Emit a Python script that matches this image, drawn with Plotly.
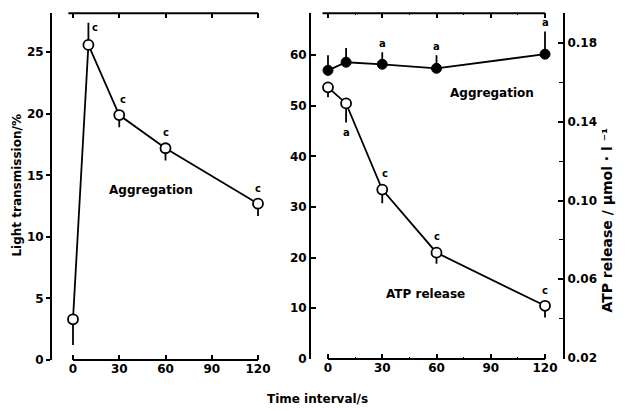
import plotly.graph_objects as go

# Page has an 8px body margin; the photographed view is slightly compressed vertically.
OFF = 8
SY = 419 / 411
W, H = 627 - OFF, 411

# ---------------- data ----------------
time_s = [0, 10, 30, 60, 120]

# left panel: light transmission (%)
agg_left = [3.3, 25.6, 19.9, 17.2, 12.7]
agg_left_up = [0, 1.8, 0, 0, 0]
agg_left_dn = [2.1, 0, 1.0, 1.0, 1.0]
agg_left_sig = ["", "c", "c", "c", "c"]

# right panel: aggregation (left axis, %)
agg_right = [57.0, 58.6, 58.2, 57.4, 60.2]
agg_right_up = [3.0, 2.8, 2.4, 2.6, 4.5]
agg_right_sig = ["", "", "a", "a", "a"]

# right panel: ATP release (right axis, umol/l)
atp = [0.1576, 0.1494, 0.1056, 0.0735, 0.0465]
atp_dn = [0.005, 0.0097, 0.007, 0.0056, 0.006]
atp_sig = ["", "a", "c", "c", "c"]

x_ticks = [0, 30, 60, 90, 120]
left_y_ticks = [0, 5, 10, 15, 20, 25]
right_y_ticks = [0, 10, 20, 30, 40, 50, 60]
atp_ticks = [0.02, 0.06, 0.10, 0.14, 0.18]
atp_minor = [0.04, 0.08, 0.12, 0.16]

# ---------------- helpers (reference pixel -> paper fraction) ----------------
def px_x(p):
    return (p - OFF) / W

def px_y(p):
    return 1 - (p * SY - OFF) / H

FONT = "DejaVu Sans"
tf = dict(family=FONT, size=12, color="black", weight="bold")
BLACK = "black"

fig = go.Figure()

# left panel aggregation
fig.add_trace(go.Scatter(
    x=time_s, y=agg_left, xaxis="x", yaxis="y", mode="lines+markers",
    line=dict(color=BLACK, width=1.8),
    marker=dict(symbol="circle", size=10, color="white", line=dict(color=BLACK, width=1.8)),
    error_y=dict(type="data", symmetric=False, array=agg_left_up, arrayminus=agg_left_dn,
                 color=BLACK, thickness=1.8, width=0),
    showlegend=False, cliponaxis=False))

# right panel aggregation (filled)
fig.add_trace(go.Scatter(
    x=time_s, y=agg_right, xaxis="x2", yaxis="y2", mode="lines+markers",
    line=dict(color=BLACK, width=1.8),
    marker=dict(symbol="circle", size=10, color=BLACK, line=dict(color=BLACK, width=1)),
    error_y=dict(type="data", symmetric=False, array=agg_right_up,
                 arrayminus=[0] * len(agg_right_up), color=BLACK, thickness=1.8, width=0),
    showlegend=False, cliponaxis=False))

# right panel ATP release (open)
fig.add_trace(go.Scatter(
    x=time_s, y=atp, xaxis="x2", yaxis="y4", mode="lines+markers",
    line=dict(color=BLACK, width=1.8),
    marker=dict(symbol="circle", size=10, color="white", line=dict(color=BLACK, width=1.8)),
    error_y=dict(type="data", symmetric=False, array=[0] * len(atp), arrayminus=atp_dn,
                 color=BLACK, thickness=1.8, width=0),
    showlegend=False, cliponaxis=False))

# ---------------- axes ----------------
left_dom_x = [px_x(52), px_x(272)]
left_dom_y = [px_y(359), px_y(13)]
right_dom_x = [px_x(311), px_x(563)]
right_dom_y = [px_y(358), px_y(13)]

common_x = dict(showgrid=False, zeroline=False, showline=False, ticks="inside", ticklen=5,
                tickwidth=1.6, tickcolor=BLACK, mirror="ticks", tickfont=tf,
                tickvals=x_ticks)

fig.update_layout(
    width=W, height=H,
    margin=dict(l=0, r=0, t=0, b=0),
    paper_bgcolor="white", plot_bgcolor="white",
    xaxis=dict(domain=left_dom_x, range=[-13.62, 129.08], anchor="y", **common_x),
    yaxis=dict(domain=left_dom_y, range=[0, 28.18], anchor="x", tickvals=left_y_ticks,
               showgrid=False, zeroline=False, showline=True, linewidth=2, linecolor=BLACK,
               ticks="outside", ticklen=4, tickwidth=1.6, tickcolor=BLACK, tickfont=tf),
    yaxis3=dict(overlaying="y", side="right", anchor="x", range=[0, 28.18],
                tickvals=left_y_ticks, showticklabels=False, showgrid=False, zeroline=False,
                showline=True, linewidth=2, linecolor=BLACK, ticks="inside", ticklen=4,
                tickwidth=1.6, tickcolor=BLACK),
    xaxis2=dict(domain=right_dom_x, range=[-9.4, 129.95], anchor="y2",
                minor=dict(tickvals=[15, 45, 75, 105], ticks="inside", ticklen=2,
                           tickwidth=1.2, tickcolor=BLACK, showgrid=False),
                **common_x),
    yaxis2=dict(domain=right_dom_y, range=[0, 68.3], anchor="x2", tickvals=right_y_ticks,
                showgrid=False, zeroline=False, showline=True, linewidth=2, linecolor=BLACK,
                ticks="inside", ticklen=5, tickwidth=1.6, tickcolor=BLACK, tickfont=tf),
    yaxis4=dict(overlaying="y2", side="right", anchor="x2", range=[0.0195, 0.1953],
                tickvals=atp_ticks, tickformat=".2f", showgrid=False, zeroline=False,
                showline=True, linewidth=2, linecolor=BLACK, ticks="inside", ticklen=5,
                tickwidth=1.6, tickcolor=BLACK, tickfont=tf,
                minor=dict(tickvals=atp_minor, ticks="inside", ticklen=4, tickwidth=1.4,
                           tickcolor=BLACK, showgrid=False)),
)

# partial frame lines (top and bottom) spanning the data range
shapes = []
for xr, yr in (("x", "y domain"), ("x2", "y2 domain")):
    shapes.append(dict(type="line", xref=xr, yref=yr, x0=-3, x1=120, y0=1, y1=1,
                       line=dict(color=BLACK, width=2)))
    shapes.append(dict(type="line", xref=xr, yref=yr, x0=0, x1=120, y0=0, y1=0,
                       line=dict(color=BLACK, width=2)))
fig.update_layout(shapes=shapes)

# ---------------- significance letters ----------------
ann = []
sig_font = dict(family=FONT, size=10, color=BLACK, weight="bold")
left_shift = [(0, 0), (7, 17), (4, 16), (0, 16), (0, 15)]
for xv, yv, s, (dx, dy) in zip(time_s, agg_left, agg_left_sig, left_shift):
    if s:
        ann.append(dict(x=xv, y=yv, xref="x", yref="y", text=s, showarrow=False,
                        xshift=dx, yshift=dy, font=sig_font))
for xv, yv, up, s in zip(time_s, agg_right, agg_right_up, agg_right_sig):
    if s:
        ann.append(dict(x=xv, y=yv + up, xref="x2", yref="y2", text=s, showarrow=False,
                        yshift=9, font=sig_font))
atp_shift = [(0, 0), (0, -29), (3, 16), (0, 16), (0, 15)]
for xv, yv, s, (dx, dy) in zip(time_s, atp, atp_sig, atp_shift):
    if s:
        ann.append(dict(x=xv, y=yv, xref="x2", yref="y4", text=s, showarrow=False,
                        xshift=dx, yshift=dy, font=sig_font))

lab_font = dict(family=FONT, size=12, color=BLACK, weight="bold")
def paper_text(text, x, y, angle=0, size=12):
    f = dict(lab_font)
    f["size"] = size
    return dict(x=px_x(x), y=px_y(y), xref="paper", yref="paper", text=text,
                showarrow=False, textangle=angle, font=f, xanchor="center", yanchor="middle")

ann.append(paper_text("Aggregation", 151, 189))
ann.append(paper_text("Aggregation", 492, 93))
ann.append(paper_text("ATP release", 425, 293))
ann.append(paper_text("Light transmission/%", 17, 185, angle=-90))
ann.append(paper_text("ATP release / µmol · l ⁻¹", 607, 220, angle=-90, size=14))
ann.append(paper_text("Time interval/s", 317, 398))
fig.update_layout(annotations=ann)

fig.write_html("out.html", config={"displayModeBar": False})
